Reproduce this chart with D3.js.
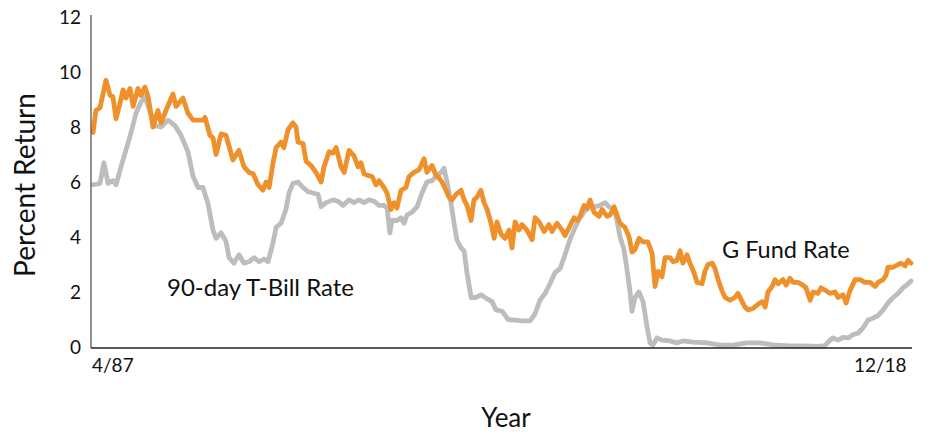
<!DOCTYPE html>
<html>
<head>
<meta charset="utf-8">
<script src="https://cdn.jsdelivr.net/npm/d3@7"></script>
<style>
  html, body { margin: 0; padding: 0; background: #fff; }
  svg { display: block; font-family: Lato, "Open Sans", sans-serif; }
</style>
</head>
<body>
<svg id="chart" width="948" height="436"></svg>
<script>
// ---- Data (decimal year, percent) ----
const gFundYears = [1987.29,1987.40,1987.56,1987.79,1987.95,1988.06,1988.18,1988.33,1988.45,1988.56,1988.72,1988.84,1989.03,1989.14,1989.30,1989.42,1989.61,1989.80,1989.92,1990.11,1990.38,1990.50,1990.77,1990.96,1991.16,1991.54,1991.62,1991.81,1991.93,1992.05,1992.24,1992.43,1992.70,1992.93,1993.13,1993.32,1993.48,1993.67,1993.86,1993.98,1994.10,1994.25,1994.37,1994.56,1994.67,1994.83,1995.02,1995.14,1995.22,1995.41,1995.53,1995.72,1995.91,1996.11,1996.22,1996.42,1996.57,1996.69,1996.88,1997.00,1997.19,1997.38,1997.54,1997.65,1997.77,1997.88,1998.08,1998.23,1998.35,1998.54,1998.66,1998.81,1998.93,1999.04,1999.20,1999.39,1999.51,1999.70,1999.90,2000.09,2000.20,2000.40,2000.55,2000.67,2000.78,2000.94,2001.05,2001.17,2001.33,2001.52,2001.64,2001.75,2001.91,2002.02,2002.14,2002.29,2002.41,2002.53,2002.68,2002.80,2002.91,2003.07,2003.22,2003.38,2003.49,2003.61,2003.76,2003.88,2004.07,2004.27,2004.38,2004.54,2004.73,2004.92,2005.04,2005.23,2005.43,2005.54,2005.70,2005.89,2006.01,2006.12,2006.28,2006.39,2006.51,2006.66,2006.86,2006.97,2007.17,2007.28,2007.44,2007.55,2007.67,2007.86,2008.02,2008.13,2008.25,2008.40,2008.56,2008.75,2008.91,2009.02,2009.14,2009.29,2009.41,2009.60,2009.72,2009.87,2009.99,2010.10,2010.26,2010.37,2010.49,2010.65,2010.84,2010.95,2011.07,2011.23,2011.34,2011.46,2011.61,2011.73,2011.92,2012.11,2012.23,2012.39,2012.50,2012.62,2012.81,2013.00,2013.16,2013.28,2013.39,2013.55,2013.66,2013.78,2013.97,2014.09,2014.24,2014.36,2014.55,2014.74,2014.86,2015.02,2015.13,2015.32,2015.44,2015.63,2015.79,2015.98,2016.10,2016.29,2016.41,2016.56,2016.76,2016.95,2017.14,2017.34,2017.53,2017.65,2017.84,2017.95,2018.03,2018.23,2018.42,2018.53,2018.69,2018.81,2018.92];
const gFundRates = [7.8,8.6,8.7,9.7,9.15,9.1,8.3,8.85,9.35,9.05,9.4,8.75,9.4,9.15,9.45,9.1,8.0,8.6,8.15,8.6,9.2,8.75,9.05,8.5,8.25,8.25,8.35,7.7,7.6,7.0,7.75,7.7,6.8,7.15,6.55,6.35,6.3,5.9,5.7,6.0,5.8,6.7,7.25,7.45,7.25,7.9,8.15,8.0,7.45,7.4,6.75,6.6,6.35,6.0,6.55,7.1,7.05,7.25,6.55,6.35,7.15,6.95,6.55,6.7,6.3,6.25,6.2,5.9,6.05,5.8,5.6,5.0,5.25,5.05,5.7,5.8,6.2,6.35,6.45,6.85,6.35,6.6,6.25,6.15,6.0,5.7,5.45,5.35,5.55,5.7,5.35,5.15,4.6,5.35,5.45,5.7,5.25,5.0,4.5,3.95,4.55,4.1,3.95,4.25,3.6,4.55,4.25,4.45,4.25,3.9,4.7,4.55,4.2,4.45,4.2,4.5,4.25,4.05,4.35,4.7,4.6,4.75,5.15,5.05,5.35,4.9,4.75,5.0,4.75,4.8,5.1,4.8,4.5,4.35,4.0,3.45,3.55,3.95,3.82,3.82,3.4,2.2,2.75,2.55,3.25,3.25,3.1,3.15,3.5,3.05,3.35,3.05,2.8,2.35,2.3,2.75,3.0,3.05,2.85,2.45,2.05,1.8,1.7,1.8,1.95,1.65,1.45,1.35,1.4,1.55,1.65,1.45,2.0,2.2,2.45,2.3,2.45,2.25,2.5,2.35,2.35,2.25,2.15,1.7,2.0,1.95,2.15,2.05,1.95,2.0,1.8,1.9,1.6,2.05,2.45,2.45,2.35,2.35,2.2,2.35,2.45,2.6,2.9,2.9,3.0,3.05,2.95,3.15,3.05];

const tBillYears = [1987.29,1987.56,1987.71,1987.87,1988.06,1988.18,1988.37,1988.56,1988.76,1988.95,1989.14,1989.30,1989.49,1989.69,1989.92,1990.19,1990.46,1990.69,1990.96,1991.16,1991.35,1991.54,1991.74,1991.93,1992.05,1992.24,1992.43,1992.55,1992.74,1992.93,1993.13,1993.32,1993.52,1993.71,1993.90,1994.06,1994.25,1994.37,1994.56,1994.75,1994.87,1995.02,1995.22,1995.41,1995.60,1995.80,1995.99,1996.11,1996.30,1996.57,1996.76,1996.96,1997.19,1997.38,1997.58,1997.77,1997.96,1998.16,1998.35,1998.54,1998.66,1998.77,1998.85,1999.04,1999.20,1999.32,1999.43,1999.62,1999.82,2000.01,2000.20,2000.40,2000.55,2000.75,2000.86,2000.98,2001.13,2001.25,2001.36,2001.52,2001.64,2001.75,2001.91,2002.10,2002.29,2002.53,2002.72,2002.87,2003.11,2003.34,2003.61,2003.88,2004.19,2004.38,2004.57,2004.77,2004.96,2005.15,2005.35,2005.54,2005.73,2005.93,2006.12,2006.31,2006.51,2006.70,2006.89,2007.09,2007.24,2007.44,2007.55,2007.67,2007.82,2007.94,2008.05,2008.13,2008.25,2008.40,2008.56,2008.71,2008.83,2008.94,2009.10,2009.29,2009.60,2009.87,2010.10,2010.49,2011.03,2011.54,2012.04,2012.58,2013.08,2013.58,2014.13,2014.63,2015.09,2015.32,2015.60,2015.71,2015.90,2016.10,2016.29,2016.49,2016.68,2016.87,2017.07,2017.26,2017.45,2017.65,2017.84,2018.03,2018.23,2018.42,2018.61,2018.81,2018.92];
const tBillRates = [5.9,5.95,6.7,5.95,6.05,5.9,6.55,7.15,7.8,8.5,8.9,9.1,8.55,8.05,8.0,8.25,8.05,7.7,7.1,6.2,5.8,5.8,5.2,4.25,3.95,4.15,3.85,3.25,3.05,3.35,3.05,3.1,3.25,3.1,3.2,3.1,3.8,4.35,4.5,5.0,5.6,5.95,6.0,5.8,5.65,5.6,5.55,5.1,5.25,5.35,5.3,5.15,5.35,5.25,5.35,5.25,5.35,5.3,5.15,5.15,5.05,4.15,4.6,4.6,4.7,4.5,4.8,4.9,5.1,5.6,6.0,6.05,6.2,6.35,6.5,6.0,5.25,4.5,3.9,3.6,3.5,2.7,1.8,1.8,1.9,1.75,1.65,1.35,1.3,1.0,0.98,0.95,0.95,1.2,1.7,1.95,2.3,2.7,2.85,3.35,3.9,4.35,4.7,4.95,5.1,5.1,5.15,5.25,5.1,5.0,4.6,4.0,3.55,2.8,2.05,1.3,1.8,2.0,1.65,0.75,0.15,0.07,0.33,0.25,0.22,0.15,0.22,0.18,0.15,0.07,0.07,0.15,0.15,0.08,0.05,0.04,0.03,0.02,0.05,0.18,0.33,0.25,0.35,0.33,0.45,0.5,0.7,0.98,1.05,1.15,1.35,1.6,1.8,1.95,2.15,2.3,2.4];

const yTicks = [0, 2, 4, 6, 8, 10, 12];
const xTickLabels = ["4/87", "12/18"];
const xTickYears = [1987.25, 2018.75];
const seriesNames = ["G Fund Rate", "90-day T-Bill Rate"];
const axisTitles = { x: "Year", y: "Percent Return" };

(function () {
  const svg = d3.select("#chart");
  const mLeft = 91, mRight = 912, mTop = 17, mBottom = 347;

  const x = d3.scaleLinear().domain([1987.25, 2018.92]).range([mLeft + 1, 911]);
  const y = d3.scaleLinear().domain([0, 12]).range([mBottom, mTop]);

  const line = d3.line().x(d => x(d[0])).y(d => y(d[1])).curve(d3.curveLinear);
  const tData = tBillYears.map((t, i) => [t, tBillRates[i]]);
  const gData = gFundYears.map((t, i) => [t, gFundRates[i]]);

  svg.append("path").datum(tData)
    .attr("d", line).attr("fill", "none")
    .attr("stroke", "#BDBDBD").attr("stroke-width", 4.8)
    .attr("stroke-linejoin", "round").attr("stroke-linecap", "round");

  svg.append("path").datum(gData)
    .attr("d", line).attr("fill", "none")
    .attr("stroke", "#F0902A").attr("stroke-width", 4.8)
    .attr("stroke-linejoin", "round").attr("stroke-linecap", "round");

  // Y axis
  const yAxis = d3.axisLeft(y).tickValues(yTicks).tickSize(0).tickPadding(10).tickFormat(d3.format("d"));
  const gy = svg.append("g").attr("transform", `translate(${mLeft},0)`).call(yAxis);
  gy.select(".domain").remove();
  gy.selectAll("text").attr("font-size", 19).attr("fill", "#111").attr("font-family", "Lato, sans-serif");
  svg.append("line").attr("x1", mLeft).attr("x2", mLeft).attr("y1", mTop - 2).attr("y2", mBottom + 1)
    .attr("stroke", "#555").attr("stroke-width", 1.3);

  // X axis
  svg.append("line").attr("x1", mLeft).attr("x2", mRight).attr("y1", mBottom + 1).attr("y2", mBottom + 1)
    .attr("stroke", "#222").attr("stroke-width", 1.3);
  svg.selectAll("text.xtick").data(xTickLabels).enter().append("text")
    .attr("class", "xtick")
    .attr("x", (d, i) => x(xTickYears[i]))
    .attr("y", mBottom + 25)
    .attr("text-anchor", (d, i) => i === 0 ? "start" : "end")
    .attr("font-size", 19).attr("fill", "#111")
    .text(d => d);

  // Axis titles
  svg.append("text").attr("transform", `translate(35,185) rotate(-90)`)
    .attr("text-anchor", "middle").attr("font-size", 28).attr("fill", "#111")
    .text(axisTitles.y);
  svg.append("text").attr("x", 506).attr("y", 427)
    .attr("text-anchor", "middle").attr("font-size", 26).attr("fill", "#111")
    .text(axisTitles.x);

  // Series labels
  svg.append("text").attr("x", x(1990.15)).attr("y", y(1.87))
    .attr("font-size", 24).attr("fill", "#111").text(seriesNames[1]);
  svg.append("text").attr("x", x(2011.61)).attr("y", y(3.22))
    .attr("font-size", 23.5).attr("fill", "#111").text(seriesNames[0]);
})();
</script>
</body>
</html>
